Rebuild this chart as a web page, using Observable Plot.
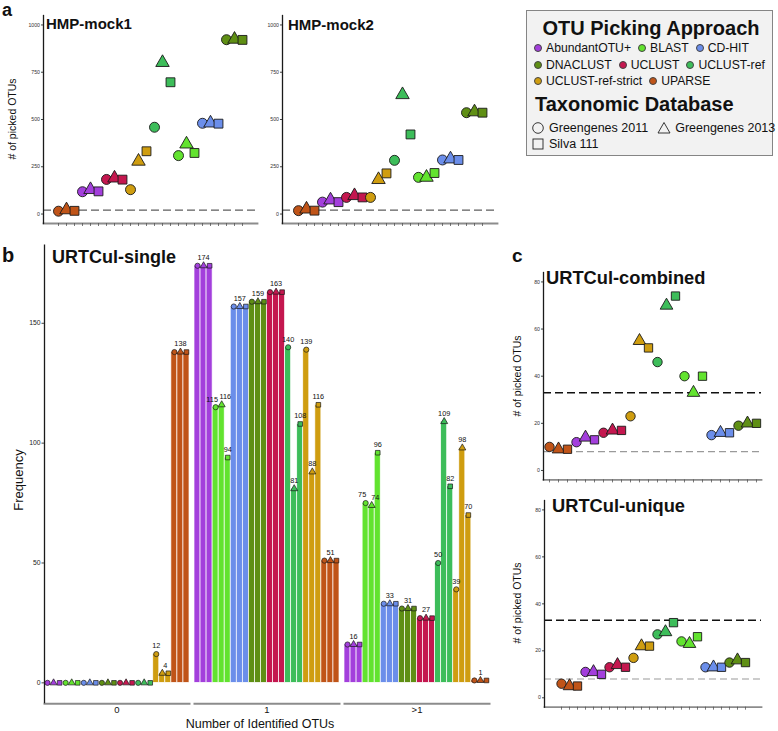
<!DOCTYPE html>
<html><head><meta charset="utf-8">
<script src="https://cdn.jsdelivr.net/npm/d3@7"></script>
<script src="https://cdn.jsdelivr.net/npm/@observablehq/plot@0.6"></script>
<style>
body{margin:0;background:#fff;font-family:"Liberation Sans",Arial,Helvetica,sans-serif;}
#root{position:relative;width:778px;height:731px;overflow:hidden;background:#fff;}
.t{position:absolute;white-space:nowrap;line-height:1;color:#111;}
</style></head><body><div id="root"></div>
<script>
// ---------- data ----------
const approaches = ["AbundantOTU+","BLAST","CD-HIT","DNACLUST","UCLUST","UCLUST-ref","UCLUST-ref-strict","UPARSE"];
const approachColors = ["#a33fdc","#62e32f","#6b8eea","#5f8f14","#c4174f","#3dbd5a","#cf9d10","#c05418"];
const databases = ["Greengenes 2011","Greengenes 2013","Silva 111"];
const dbSymbols = ["circle","triangle","square"];
// order of approaches along x in scatter panels (a, c)
const scatterOrder = ["UPARSE","AbundantOTU+","UCLUST","UCLUST-ref-strict","UCLUST-ref","BLAST","CD-HIT","DNACLUST"];
// values per approach (scatterOrder) as [GG2011, GG2013, Silva111]
const mock1Values = [[15,22,17],[118,129,120],[183,190,182],[129,279,332],[459,801,697],[309,370,323],[480,481,478],[922,924,921]];
const mock2Values = [[18,26,18],[63,74,63],[88,97,88],[88,182,215],[284,631,421],[194,194,217],[286,291,286],[536,540,536]];
const combinedValues = [[10,9,9],[12,14,13],[16,17,17],[23,55,52],[46,70,74],[40,33,40],[15,16,16],[19,20,20]];
const uniqueValues = [[6,5,5],[11,11,10],[13,14,13],[17,22,22],[27,28,32],[24,23,26],[13,13,13],[15,16,15]];
const mockExpected = 21;
const urtExpected = 33;
const urtLower = 8;
const mockTicks = [0,250,500,750,1000];
const urtTicks = [0,20,40,60,80];
// panel b: frequency per group, approaches order, [GG2011, GG2013, Silva111]
const groups = ["0","1",">1"];
const zeroCounts  = [[0,0,0],[0,0,0],[0,0,0],[0,0,0],[0,0,0],[0,0,0],[12,4,4],[138,138,138]];
const oneCounts   = [[174,174,174],[115,116,94],[157,157,157],[159,159,159],[163,163,163],[140,81,108],[139,88,116],[51,51,51]];
const multiCounts = [[16,16,16],[75,74,96],[33,33,33],[31,31,31],[27,27,27],[50,109,82],[39,98,70],[1,1,1]];
const freqTicks = [0,50,100,150];

// ---------- helpers ----------
const root = document.getElementById("root");
const FONT = '"Liberation Sans", Arial, Helvetica, sans-serif';
function text(str, x, baseline, size, opts = {}) {
  const d = document.createElement("div");
  d.className = "t";
  d.textContent = str;
  d.style.fontSize = size + "px";
  d.style.fontWeight = opts.bold ? "bold" : "normal";
  d.style.left = x + "px";
  d.style.top = (baseline - 0.85 * size) + "px";
  if (opts.align === "center") d.style.transform = "translateX(-50%)";
  root.appendChild(d);
  return d;
}
function vtext(str, cx, cy, size) {
  const d = document.createElement("div");
  d.className = "t";
  d.textContent = str;
  d.style.fontSize = size + "px";
  d.style.left = cx + "px";
  d.style.top = cy + "px";
  d.style.transform = "translate(-50%,-50%) rotate(-90deg)";
  root.appendChild(d);
}
const colorScale = {domain: approaches, range: approachColors};
const symbolScale = {domain: databases, range: dbSymbols};
const intFmt = d3.format("d");

function scatterPanel(values, cfg) {
  const mL = 34, mR = 4, mT = 4, mB = 8;
  const rows = [];
  scatterOrder.forEach((a, i) => databases.forEach((db, j) =>
    rows.push({key: a + "|" + db, approach: a, db, value: values[i][j]})));
  const plot = Plot.plot({
    width: cfg.right - cfg.left + mL + mR,
    height: cfg.bottom - cfg.top + mT + mB,
    marginLeft: mL, marginRight: mR, marginTop: mT, marginBottom: mB,
    style: {fontFamily: FONT, background: "transparent", overflow: "visible", color: "#222"},
    x: {type: "point", domain: rows.map(d => d.key), padding: 0.6, label: null},
    y: {domain: cfg.domain, label: null},
    color: colorScale,
    symbol: symbolScale,
    marks: [
      Plot.frame({anchor: "bottom", stroke: "#8c8c8c", strokeWidth: 1.8}),
      Plot.axisX({tickSize: 3, tickFormat: () => "", label: null, stroke: "#555", strokeWidth: 0.8}),
      Plot.axisY({ticks: cfg.ticks, tickFormat: intFmt, tickSize: 2, tickPadding: 1.5, fontSize: 5.2, label: null, stroke: "#444", fill: "#333"}),
      ...cfg.lines.map(l => Plot.ruleY([l.value], {stroke: l.color, strokeWidth: l.width, strokeDasharray: l.dash})),
      Plot.frame({anchor: "left", stroke: "#1a1a1a", strokeWidth: 1.3}),
      Plot.dot(rows, {x: "key", y: "value", fill: "approach", symbol: "db", r: cfg.r, stroke: "#1a1a1a", strokeWidth: 0.9})
    ]
  });
  plot.style.position = "absolute";
  plot.style.left = (cfg.left - mL) + "px";
  plot.style.top = (cfg.top - mT) + "px";
  root.appendChild(plot);
}

// ---------- panel a ----------
const mockLines = [{value: mockExpected, color: "#5e5e5e", width: 1.2, dash: "8,4"}];
scatterPanel(mock1Values, {left: 43, right: 257, top: 15, bottom: 223, domain: [-50, 1050], ticks: mockTicks, lines: mockLines, r: 5});
scatterPanel(mock2Values, {left: 282, right: 497, top: 15, bottom: 223, domain: [-50, 1050], ticks: mockTicks, lines: mockLines, r: 5});
text("a", 2, 16, 18, {bold: true});
text("HMP-mock1", 46, 29, 15, {bold: true});
text("HMP-mock2", 288, 30, 15, {bold: true});
vtext("# of picked OTUs", 12, 119, 10.5);

// ---------- panel c ----------
const urtLines = [
  {value: urtExpected, color: "#111", width: 1.4, dash: "8,4"},
  {value: urtLower, color: "#9a9a9a", width: 1.2, dash: "7,4"}
];
scatterPanel(combinedValues, {left: 543, right: 761, top: 272.3, bottom: 479.7, domain: [-4, 84], ticks: urtTicks, lines: urtLines, r: 4.7});
scatterPanel(uniqueValues, {left: 544, right: 761, top: 500, bottom: 706.7, domain: [-4, 84], ticks: urtTicks, lines: urtLines, r: 4.7});
text("c", 512, 262, 19, {bold: true});
text("URTCul-combined", 546, 285, 18.3, {bold: true});
text("URTCul-unique", 552, 513, 18.3, {bold: true});
vtext("# of picked OTUs", 517, 376, 10.5);
vtext("# of picked OTUs", 517, 603, 10.5);

// ---------- panel b ----------
const groupCounts = [zeroCounts, oneCounts, multiCounts];
const barRows = [];
const barLabels = [];
groups.forEach((g, gi) => approaches.forEach((a, i) => {
  const vals = groupCounts[gi][i];
  vals.forEach((v, j) => barRows.push({group: g, approach: a, db: databases[j], idx: i * 3 + j, value: v}));
  const labs = [...new Set(vals)].filter(v => v > 0).map(v => {
    const idxs = vals.map((x, j) => x === v ? i * 3 + j : null).filter(x => x !== null);
    return {group: g, pos: d3.mean(idxs), value: v, nudge: 0};
  });
  // nudge labels apart when neighbouring values nearly coincide (as in the figure)
  for (let k = 0; k + 1 < labs.length; k++) {
    if (Math.abs(labs[k].value - labs[k + 1].value) <= 3 && labs[k + 1].pos - labs[k].pos <= 1) {
      labs[k].nudge = -1; labs[k + 1].nudge = 1;
    }
  }
  barLabels.push(...labs);
}));
{
  const top = 236, mT = 8.4, mB = 27.8, frameBottom = 703.2;
  const labelMark = (n, dx) => Plot.text(barLabels.filter(d => d.nudge === n),
    {fx: "group", x: "pos", y: "value", text: d => String(d.value), dy: -8, dx, fontSize: 7.3, fill: "#111"});
  const plot = Plot.plot({
    width: 495, height: frameBottom + mB - top,
    marginLeft: 43, marginRight: 6, marginTop: mT, marginBottom: mB,
    style: {fontFamily: FONT, background: "transparent", overflow: "visible", color: "#222"},
    fx: {domain: groups, paddingInner: 0.034, paddingOuter: 0, label: null},
    x: {domain: [-0.5, 23.5], axis: null, label: null},
    y: {domain: [-8.7, 182.7], label: null},
    color: colorScale,
    symbol: symbolScale,
    marks: [
      Plot.frame({anchor: "bottom", stroke: "#8c8c8c", strokeWidth: 2}),
      Plot.ruleX([{group: groups[0], edge: -0.5}], {fx: "group", x: "edge", stroke: "#1a1a1a", strokeWidth: 1.3}),
      Plot.axisY({ticks: freqTicks, tickFormat: intFmt, tickSize: 2.5, tickPadding: 1.5, fontSize: 6.8, label: null, stroke: "#444", fill: "#222"}),
      Plot.axisFx({anchor: "bottom", tickSize: 0, tickPadding: 3, fontSize: 9.5, label: null, fill: "#111"}),
      Plot.rect(barRows, {fx: "group", x1: d => d.idx - 0.5, x2: d => d.idx + 0.5, y1: d => 0, y2: "value", fill: "approach", stroke: "white", strokeWidth: 0.7}),
      Plot.dot(barRows, {fx: "group", x: "idx", y: "value", fill: "approach", symbol: "db", r: 2.6, stroke: "#1a1a1a", strokeWidth: 0.7}),
      labelMark(0, 0),
      labelMark(-1, -3.5),
      labelMark(1, 3.5)
    ]
  });
  plot.style.position = "absolute";
  plot.style.left = "0px";
  plot.style.top = top + "px";
  root.appendChild(plot);
}
text("b", 2, 262, 20, {bold: true});
text("URTCul-single", 52, 263, 18, {bold: true});
vtext("Frequency", 18, 480, 13);
text("Number of Identified OTUs", 260, 729, 12.5, {align: "center"});

// ---------- legend ----------
{
  const box = document.createElement("div");
  Object.assign(box.style, {position: "absolute", left: "526px", top: "10px", width: "247px", height: "146px",
    border: "1.5px solid #858585", background: "#f2f2f2", boxSizing: "border-box"});
  root.appendChild(box);
  text("OTU Picking Approach", 651, 35, 20, {bold: true, align: "center"});
  const rowsLayout = [[0, 1, 2], [3, 4, 5], [6, 7]];
  const rowCenters = [48, 64.5, 81];
  rowsLayout.forEach((row, ri) => {
    const r = document.createElement("div");
    Object.assign(r.style, {position: "absolute", left: "534px", top: (rowCenters[ri] - 8) + "px", height: "16px",
      display: "flex", alignItems: "center", fontSize: "12.2px", whiteSpace: "nowrap", color: "#111"});
    row.forEach(i => {
      const dot = document.createElement("span");
      Object.assign(dot.style, {display: "inline-block", width: "8px", height: "8px", borderRadius: "50%",
        background: approachColors[i], border: "0.7px solid #444", boxSizing: "border-box", marginRight: "4px"});
      const lab = document.createElement("span");
      lab.textContent = approaches[i];
      lab.style.marginRight = "7px";
      r.appendChild(dot); r.appendChild(lab);
    });
    root.appendChild(r);
  });
  text("Taxonomic Database", 535, 111, 20, {bold: true});
  const shapes = {
    circle: '<circle cx="7" cy="7" r="5.3" fill="none" stroke="#222" stroke-width="0.9"/>',
    triangle: '<path d="M7,1.5 L13,12 L1,12 Z" fill="none" stroke="#222" stroke-width="0.9"/>',
    square: '<rect x="2" y="2" width="10" height="10" fill="none" stroke="#222" stroke-width="0.9"/>'
  };
  const dbRows = [[0, 1], [2]];
  const dbCenters = [128, 143.5];
  dbRows.forEach((row, ri) => {
    const r = document.createElement("div");
    Object.assign(r.style, {position: "absolute", left: "531px", top: (dbCenters[ri] - 8) + "px", height: "16px",
      display: "flex", alignItems: "center", fontSize: "12.5px", whiteSpace: "nowrap", color: "#111"});
    row.forEach(i => {
      const s = document.createElement("span");
      s.style.display = "inline-block"; s.style.width = "14px"; s.style.height = "14px"; s.style.marginRight = "4px";
      s.innerHTML = '<svg width="14" height="14">' + shapes[dbSymbols[i]] + '</svg>';
      const lab = document.createElement("span");
      lab.textContent = databases[i];
      lab.style.marginRight = "9px";
      r.appendChild(s); r.appendChild(lab);
    });
    root.appendChild(r);
  });
}
</script></body></html>
